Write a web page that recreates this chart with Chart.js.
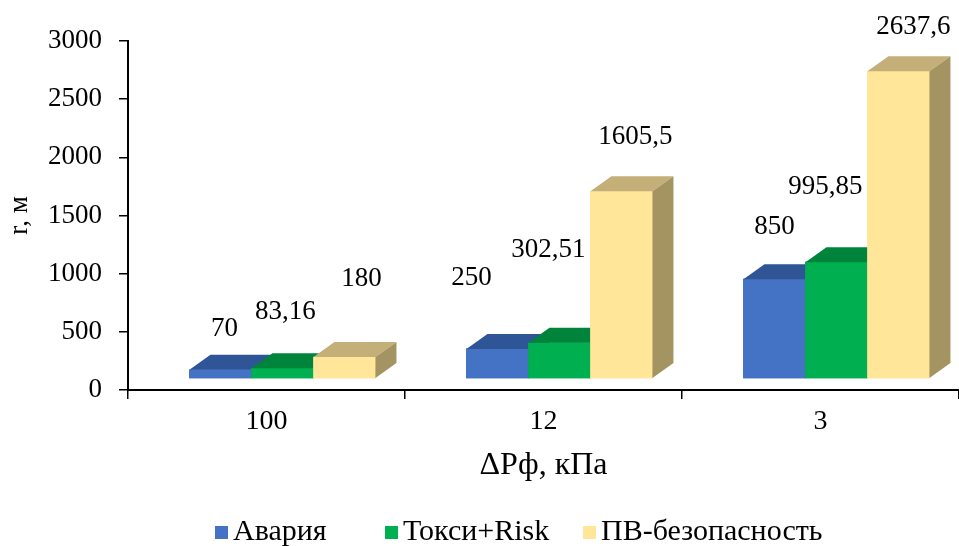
<!DOCTYPE html>
<html>
<head>
<meta charset="utf-8">
<script src="https://cdn.jsdelivr.net/npm/chart.js@4.4.1/dist/chart.umd.min.js"></script>
<style>
  html, body { margin: 0; padding: 0; background: #ffffff; overflow: hidden; }
  canvas { display: block; }
</style>
</head>
<body>
<canvas id="chart" width="959" height="546"></canvas>
<script>
// Distance categories (ΔPф, kPa) and radii r (m) per method
const categories = ['100', '12', '3'];
const seriesNames = ['Авария', 'Токси+Risk', 'ПВ-безопасность'];
const avariya = [70, 250, 850];
const toksiRisk = [83.16, 302.51, 995.85];
const pvSafety = [180, 1605.5, 2637.6];
const seriesValues = [avariya, toksiRisk, pvSafety];

// Value axis ticks
const yTickMin = 0;
const yTickMax = 3000;
const yTickStep = 500;

// Styling
const FONT = "'Liberation Serif', 'Times New Roman', serif";
const faceColors = [
  { front: '#4472C4', top: '#2F5597', side: '#2A4D88' },
  { front: '#00B050', top: '#00843C', side: '#00753A' },
  { front: '#FFE699', top: '#C4AF78', side: '#A39462' }
];
const DEPTH_X = 21;   // oblique depth of the boxes
const DEPTH_Y = 15;
// Label placement relative to the top-front centre of each box
const labelNudge = [
  [[4, -41], [-26, -71], [0, -52]],
  [[3, -56], [-11, -93], [-11, -75]],
  [[17, -78], [14, -54], [15, -44]]
];
const legendStarts = [215, 385, 583];

const fmt = v => String(v).replace('.', ',');

// Draws the top and right faces of every bar so the columns look like boxes
const boxes3d = {
  id: 'boxes3d',
  afterDatasetsDraw(chart) {
    const ctx = chart.ctx;
    chart.data.datasets.forEach((ds, d) => {
      const meta = chart.getDatasetMeta(d);
      const col = faceColors[d];
      meta.data.forEach(bar => {
        const { x, y, base, width } = bar.getProps(['x', 'y', 'base', 'width'], true);
        const l = x - width / 2, r = x + width / 2;
        bar.draw(ctx);
        ctx.save();
        ctx.fillStyle = col.top;
        ctx.beginPath();
        ctx.moveTo(l, y);
        ctx.lineTo(r, y);
        ctx.lineTo(r + DEPTH_X, y - DEPTH_Y);
        ctx.lineTo(l + DEPTH_X, y - DEPTH_Y);
        ctx.closePath();
        ctx.fill();
        ctx.fillStyle = col.side;
        ctx.beginPath();
        ctx.moveTo(r, y);
        ctx.lineTo(r + DEPTH_X, y - DEPTH_Y);
        ctx.lineTo(r + DEPTH_X, base - DEPTH_Y);
        ctx.lineTo(r, base);
        ctx.closePath();
        ctx.fill();
        ctx.restore();
      });
    });
  }
};

// Value labels above the boxes
const valueLabels = {
  id: 'valueLabels',
  afterDatasetsDraw(chart) {
    const ctx = chart.ctx;
    ctx.save();
    ctx.font = '27px ' + FONT;
    ctx.fillStyle = '#000';
    ctx.textAlign = 'center';
    ctx.textBaseline = 'middle';
    chart.data.datasets.forEach((ds, d) => {
      const meta = chart.getDatasetMeta(d);
      meta.data.forEach((bar, i) => {
        const { x, y } = bar.getProps(['x', 'y'], true);
        const [dx, dy] = labelNudge[d][i];
        ctx.fillText(fmt(seriesValues[d][i]), x + dx, y + dy);
      });
    });
    ctx.restore();
  }
};

// Legend row at the bottom
const legendRow = {
  id: 'legendRow',
  afterDraw(chart) {
    const ctx = chart.ctx;
    ctx.save();
    ctx.font = '30px ' + FONT;
    ctx.textBaseline = 'middle';
    ctx.textAlign = 'left';
    const cy = 532;
    chart.data.datasets.forEach((ds, d) => {
      const x0 = legendStarts[d];
      ctx.fillStyle = faceColors[d].front;
      ctx.fillRect(x0, cy - 6, 13, 13);
      ctx.fillStyle = '#000';
      ctx.fillText(ds.label, x0 + 18, cy);
    });
    ctx.restore();
  }
};

const axisGrid = {
  display: true,
  drawOnChartArea: false,
  drawTicks: true,
  tickLength: 9,
  color: '#000',
  lineWidth: 1.5
};

new Chart(document.getElementById('chart'), {
  type: 'bar',
  data: {
    labels: categories,
    datasets: seriesValues.map((vals, d) => ({
      label: seriesNames[d],
      data: vals.map((v, i) => ({ x: i, y: v })),
      xAxisID: 'xb',
      yAxisID: 'yb',
      backgroundColor: faceColors[d].front,
      borderWidth: 0,
      barThickness: 62
    }))
  },
  options: {
    responsive: false,
    animation: false,
    devicePixelRatio: 1,
    layout: { padding: { top: 41, right: -3, bottom: 0, left: 0 } },
    plugins: { legend: { display: false }, tooltip: { enabled: false } },
    scales: {
      x: {
        type: 'category',
        position: 'bottom',
        offset: true,
        grid: Object.assign({ offset: true }, axisGrid),
        border: { display: true, color: '#000', width: 2 },
        ticks: { color: '#000', font: { family: FONT, size: 28 }, padding: 6 },
        title: {
          display: true, text: 'ΔPф, кПа', color: '#000',
          font: { family: FONT, size: 32 }, padding: { top: 0, bottom: 61 }
        },
        afterFit: s => { s.height = 156; }
      },
      y: {
        type: 'linear',
        position: 'left',
        min: yTickMin,
        max: yTickMax,
        grid: axisGrid,
        border: { display: true, color: '#000', width: 2 },
        ticks: {
          stepSize: yTickStep, color: '#000', font: { family: FONT, size: 27 }, padding: 17,
          callback: v => String(v)
        },
        title: {
          display: true, text: 'r, м', color: '#000',
          font: { family: FONT, size: 27 }, padding: { top: 4, bottom: 0 }
        },
        afterFit: s => { s.width = 128; }
      },
      // Placement scales for the boxes: front faces sit on a floor raised by the box depth
      xb: { type: 'linear', display: false, offset: false, min: -0.5576, max: 2.4424 },
      yb: { type: 'linear', display: false, min: -103, max: 2897 }
    }
  },
  plugins: [boxes3d, valueLabels, legendRow]
});
</script>
</body>
</html>
